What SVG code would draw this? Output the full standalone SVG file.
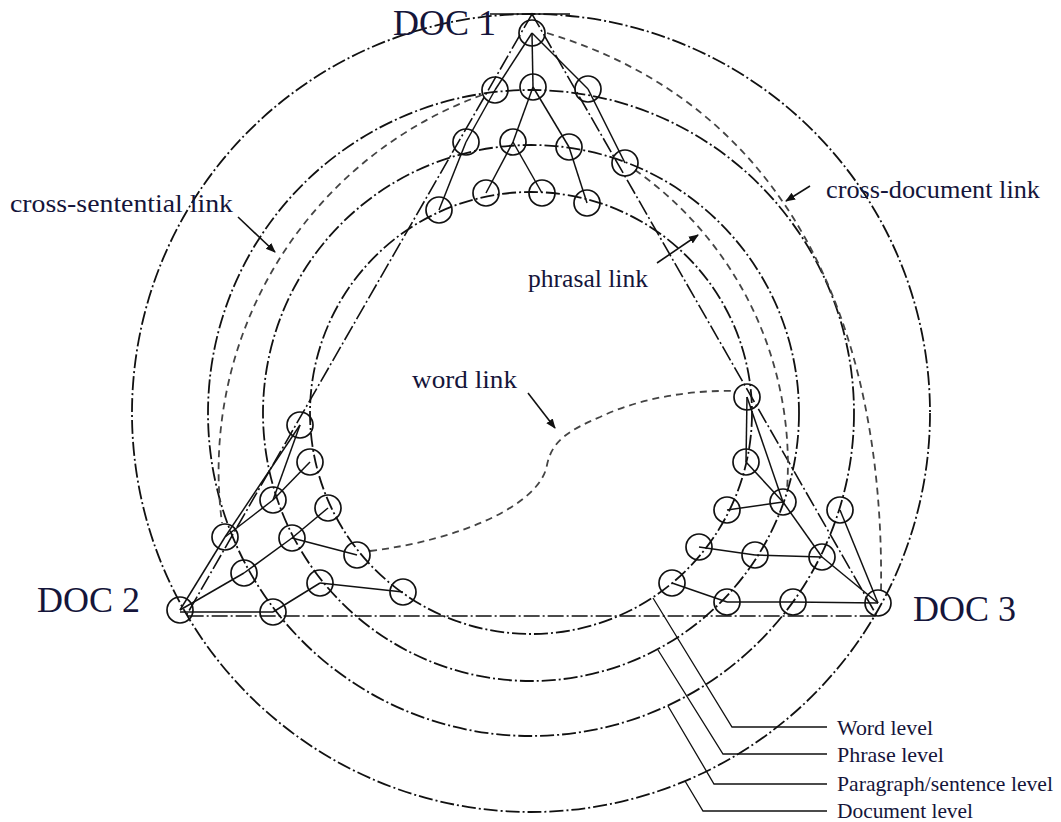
<svg xmlns="http://www.w3.org/2000/svg" width="1061" height="822" viewBox="0 0 1061 822">
<defs>
<marker id="ah" viewBox="0 0 10 10" refX="9" refY="5" markerWidth="10" markerHeight="10" markerUnits="userSpaceOnUse" orient="auto">
<path d="M0,1 L10,5 L0,9 Z" fill="#111"/>
</marker>
</defs>
<style>
.ring{fill:none;stroke:#111;stroke-width:1.8;stroke-dasharray:14 3 2 3}
.tri{fill:none;stroke:#111;stroke-width:1.6;stroke-dasharray:16 3 2 3}
.edge{stroke:#111;stroke-width:1.5;fill:none}
.node{fill:none;stroke:#111;stroke-width:1.7}
.link{fill:none;stroke:#444;stroke-width:1.8;stroke-dasharray:7 5}
.arrow{stroke:#111;stroke-width:1.6;fill:none;marker-end:url(#ah)}
.lead{stroke:#111;stroke-width:1.3;fill:none}
.big{font-family:"Liberation Serif","Times New Roman",serif;font-size:36px;fill:#15153a}
.lbl{font-family:"Liberation Serif","Times New Roman",serif;font-size:26px;fill:#15153a}
.lvl{font-family:"Liberation Serif","Times New Roman",serif;font-size:21.5px;fill:#15153a}
</style>
<rect width="1061" height="822" fill="#fff"/>

<g id="rings">
<circle class="ring" cx="531" cy="413" r="399"/>
<circle class="ring" cx="531" cy="413" r="323"/>
<circle class="ring" cx="531" cy="413" r="268"/>
<circle class="ring" cx="531" cy="413" r="221"/>
</g>

<g id="connectors">
<path class="tri" d="M532,14 L186,616 L877,616 Z"/>
<line class="edge" x1="490" y1="14" x2="570" y2="14"/>
<!-- DOC1 tree -->
<line class="edge" x1="532" y1="33" x2="495" y2="90"/>
<line class="edge" x1="532" y1="33" x2="533" y2="87"/>
<line class="edge" x1="532" y1="33" x2="588" y2="89"/>
<line class="edge" x1="495" y1="90" x2="466" y2="142"/>
<line class="edge" x1="466" y1="142" x2="439" y2="210"/>
<line class="edge" x1="533" y1="87" x2="513" y2="142"/>
<line class="edge" x1="533" y1="87" x2="569" y2="147"/>
<line class="edge" x1="588" y1="89" x2="625" y2="163"/>
<line class="edge" x1="513" y1="142" x2="486" y2="193"/>
<line class="edge" x1="513" y1="142" x2="542" y2="193"/>
<line class="edge" x1="569" y1="147" x2="587" y2="203"/>
<!-- DOC2 tree -->
<line class="edge" x1="180" y1="610" x2="225" y2="537"/>
<line class="edge" x1="180" y1="610" x2="244" y2="573"/>
<line class="edge" x1="180" y1="612" x2="273" y2="612"/>
<line class="edge" x1="225" y1="537" x2="300" y2="425"/>
<line class="edge" x1="225" y1="537" x2="273" y2="500"/>
<line class="edge" x1="273" y1="500" x2="300" y2="425"/>
<line class="edge" x1="273" y1="500" x2="310" y2="462"/>
<line class="edge" x1="244" y1="573" x2="292" y2="538"/>
<line class="edge" x1="292" y1="538" x2="328" y2="508"/>
<line class="edge" x1="292" y1="538" x2="357" y2="555"/>
<line class="edge" x1="273" y1="612" x2="320" y2="583"/>
<line class="edge" x1="320" y1="583" x2="403" y2="592"/>
<!-- DOC3 tree -->
<line class="edge" x1="878" y1="603" x2="793" y2="602"/>
<line class="edge" x1="878" y1="603" x2="822" y2="557"/>
<line class="edge" x1="878" y1="603" x2="840" y2="510"/>
<line class="edge" x1="822" y1="557" x2="755" y2="555"/>
<line class="edge" x1="822" y1="557" x2="783" y2="502"/>
<line class="edge" x1="793" y1="602" x2="727" y2="602"/>
<line class="edge" x1="727" y1="602" x2="672" y2="583"/>
<line class="edge" x1="755" y1="555" x2="699" y2="547"/>
<line class="edge" x1="783" y1="502" x2="727" y2="510"/>
<line class="edge" x1="783" y1="502" x2="746" y2="462"/>
<line class="edge" x1="747" y1="397" x2="746" y2="462"/>
<line class="edge" x1="747" y1="397" x2="783" y2="502"/>
<!-- links -->
<path class="link" d="M547,33 C787,105 885,323 881,592"/>
<path class="link" d="M482,95 A400,400 0 0 0 222,523"/>
<path class="link" d="M635,170 A360,360 0 0 1 787,490"/>
<path class="link" d="M370,551 C460,540 540,505 547,465 C552,440 570,430 600,417 C640,398 690,390 734,391"/>
<!-- arrows -->
<line class="arrow" x1="238" y1="217" x2="275" y2="252"/>
<line class="arrow" x1="810" y1="186" x2="786" y2="201"/>
<line class="arrow" x1="657" y1="263" x2="698" y2="235"/>
<line class="arrow" x1="528" y1="393" x2="555" y2="428"/>
<!-- level leaders -->
<polyline class="lead" points="653,598 732,727 827,727"/>
<polyline class="lead" points="658,650 723,754 827,754"/>
<polyline class="lead" points="668,706 714,784 827,784"/>
<polyline class="lead" points="685,781 703,811 827,811"/>
</g>

<g id="doc1">
<circle class="node" cx="532" cy="33" r="13"/>
<circle class="node" cx="495" cy="90" r="13"/>
<circle class="node" cx="533" cy="87" r="13"/>
<circle class="node" cx="588" cy="89" r="13"/>
<circle class="node" cx="466" cy="142" r="13"/>
<circle class="node" cx="513" cy="142" r="13"/>
<circle class="node" cx="569" cy="147" r="13"/>
<circle class="node" cx="625" cy="163" r="13"/>
<circle class="node" cx="439" cy="210" r="13"/>
<circle class="node" cx="486" cy="193" r="13"/>
<circle class="node" cx="542" cy="193" r="13"/>
<circle class="node" cx="587" cy="203" r="13"/>
<text class="big" x="393" y="35">DOC 1</text>
</g>

<g id="doc2">
<circle class="node" cx="180" cy="610" r="13"/>
<circle class="node" cx="225" cy="537" r="13"/>
<circle class="node" cx="244" cy="573" r="13"/>
<circle class="node" cx="273" cy="612" r="13"/>
<circle class="node" cx="273" cy="500" r="13"/>
<circle class="node" cx="292" cy="538" r="13"/>
<circle class="node" cx="320" cy="583" r="13"/>
<circle class="node" cx="300" cy="425" r="13"/>
<circle class="node" cx="310" cy="462" r="13"/>
<circle class="node" cx="328" cy="508" r="13"/>
<circle class="node" cx="357" cy="555" r="13"/>
<circle class="node" cx="403" cy="592" r="13"/>
<text class="big" x="37" y="612">DOC 2</text>
</g>

<g id="doc3">
<circle class="node" cx="878" cy="603" r="13"/>
<circle class="node" cx="840" cy="510" r="13"/>
<circle class="node" cx="822" cy="557" r="13"/>
<circle class="node" cx="793" cy="602" r="13"/>
<circle class="node" cx="783" cy="502" r="13"/>
<circle class="node" cx="755" cy="555" r="13"/>
<circle class="node" cx="727" cy="602" r="13"/>
<circle class="node" cx="747" cy="397" r="13"/>
<circle class="node" cx="746" cy="462" r="13"/>
<circle class="node" cx="727" cy="510" r="13"/>
<circle class="node" cx="699" cy="547" r="13"/>
<circle class="node" cx="672" cy="583" r="13"/>
<text class="big" x="913" y="621">DOC 3</text>
</g>

<g id="labels">
<text class="lbl" x="10" y="212" textLength="223" lengthAdjust="spacingAndGlyphs">cross-sentential link</text>
<text class="lbl" x="826" y="198" textLength="214" lengthAdjust="spacingAndGlyphs">cross-document link</text>
<text class="lbl" x="528" y="287" textLength="120" lengthAdjust="spacingAndGlyphs">phrasal link</text>
<text class="lbl" x="412" y="388" textLength="105" lengthAdjust="spacingAndGlyphs">word link</text>
<text class="lvl" x="837" y="735" textLength="96" lengthAdjust="spacingAndGlyphs">Word level</text>
<text class="lvl" x="837" y="762" textLength="107" lengthAdjust="spacingAndGlyphs">Phrase level</text>
<text class="lvl" x="837" y="791" textLength="216" lengthAdjust="spacingAndGlyphs">Paragraph/sentence level</text>
<text class="lvl" x="837" y="818" textLength="136" lengthAdjust="spacingAndGlyphs">Document level</text>
</g>
</svg>
